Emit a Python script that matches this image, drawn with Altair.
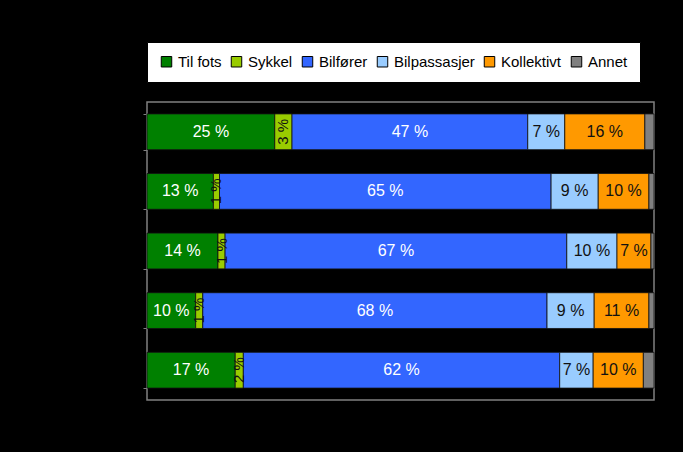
import altair as alt
import pandas as pd

rows = ["Rad 1", "Rad 2", "Rad 3", "Rad 4", "Rad 5"]
modes = ["Til fots", "Sykkel", "Bilfører", "Bilpassasjer", "Kollektivt", "Annet"]
colors = ["#008000", "#99cc00", "#3366ff", "#99ccff", "#ff9900", "#808080"]

til_fots = [25.2, 13.1, 14.0, 9.6, 17.4]
sykkel = [3.4, 1.2, 1.4, 1.4, 1.6]
bilforer = [46.5, 65.4, 67.4, 67.9, 62.4]
bilpassasjer = [7.3, 9.3, 9.9, 9.3, 6.6]
kollektivt = [15.8, 10.0, 6.7, 10.8, 9.9]
annet = [1.8, 1.0, 0.6, 1.0, 2.1]

series = [til_fots, sykkel, bilforer, bilpassasjer, kollektivt, annet]
records = []
for i, r in enumerate(rows):
    for k, m in enumerate(modes):
        records.append({"row": r, "mode": m, "order": k, "value": series[k][i]})
df = pd.DataFrame(records)

FONT = "Liberation Sans"

base = alt.Chart(df).transform_stack(
    stack="value", groupby=["row"], as_=["x0", "x1"], sort=[alt.SortField("order")]
).transform_calculate(
    mid="(datum.x0 + datum.x1) / 2",
    label="format(datum.value, '.0f') + ' %'",
)

y_enc = alt.Y(
    "row:N", sort=rows, title=None,
    scale=alt.Scale(paddingInner=0.4, paddingOuter=0.2),
    axis=alt.Axis(labels=False, domain=False, ticks=True, tickColor="#808080",
                  tickBand="extent", tickSize=4, grid=False),
)
x_scale = alt.Scale(domain=[0, 100], nice=False)

bars = base.mark_bar(stroke="#111111", strokeWidth=0.8).encode(
    x=alt.X("x0:Q", scale=x_scale, axis=None),
    x2="x1:Q",
    y=y_enc,
    color=alt.Color(
        "mode:N",
        scale=alt.Scale(domain=modes, range=colors),
        legend=alt.Legend(
            orient="none", legendX=0, legendY=-60, direction="horizontal",
            columns=6, title=None, fillColor="white", strokeColor="black",
            padding=12, symbolType="square", symbolSize=110,
            symbolStrokeColor="black", symbolStrokeWidth=1,
            labelFontSize=15, labelColor="black", labelFont=FONT,
            columnPadding=7, labelOffset=4,
        ),
    ),
)

white_txt = base.transform_filter(
    alt.FieldOneOfPredicate(field="mode", oneOf=["Til fots", "Bilfører"])
).mark_text(color="white", fontSize=16, font=FONT).encode(
    x=alt.X("mid:Q", scale=x_scale), y=y_enc, text="label:N"
)

dark_txt = base.transform_filter(
    alt.FieldOneOfPredicate(field="mode", oneOf=["Bilpassasjer", "Kollektivt"])
).mark_text(color="#111111", fontSize=16, font=FONT).encode(
    x=alt.X("mid:Q", scale=x_scale), y=y_enc, text="label:N"
)

rot_txt = base.transform_filter(
    alt.FieldEqualPredicate(field="mode", equal="Sykkel")
).mark_text(color="#111111", fontSize=15, font=FONT, angle=270).encode(
    x=alt.X("mid:Q", scale=x_scale), y=y_enc, text="label:N"
)

chart = alt.layer(bars, white_txt, dark_txt, rot_txt).properties(
    width=507, height=298,
    autosize=alt.AutoSizeParams(type="none"),
    padding={"left": 147, "top": 102, "right": 29, "bottom": 52},
    background="black",
).configure_view(stroke="#808080", strokeWidth=1.5)

chart.save("out.html", embed_options={"renderer": "svg", "actions": False})
